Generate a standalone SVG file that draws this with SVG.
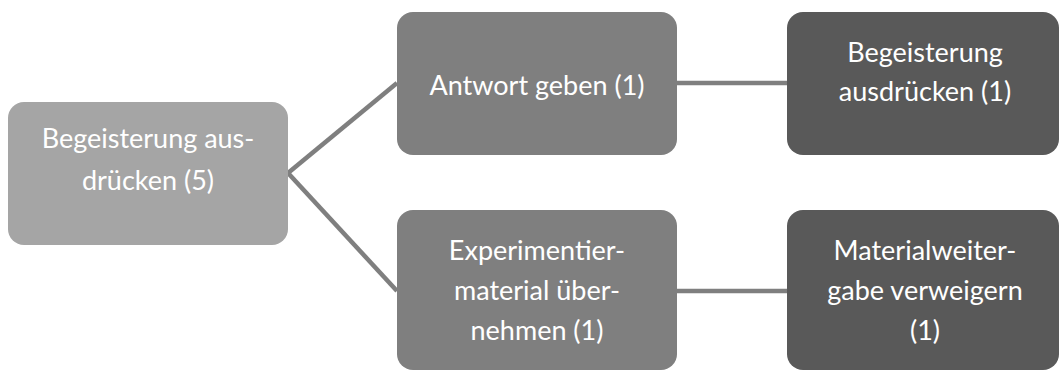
<svg xmlns="http://www.w3.org/2000/svg" width="1060" height="370" viewBox="0 0 1060 370">
<style>
.n1{fill:#a5a5a5}
.n2{fill:#7f7f7f}
.n3{fill:#595959}
.t{font-family:"Lato","Liberation Sans",sans-serif;font-size:27px;fill:#ffffff;text-anchor:middle}
.c{stroke:#7f7f7f;stroke-width:4.5;fill:none}
</style>
<rect width="1060" height="370" fill="#ffffff"/>
<g id="connectors">
<line class="c" x1="288" y1="173" x2="397" y2="83"/>
<line class="c" x1="288" y1="173" x2="397" y2="291"/>
<line class="c" x1="677" y1="83" x2="787" y2="83"/>
<line class="c" x1="677" y1="291" x2="787" y2="291"/>
</g>
<g id="node1">
<rect class="n1" x="8" y="102" width="280" height="143" rx="16"/>
<text class="t" x="148" y="148">Begeisterung aus-</text>
<text class="t" x="148" y="190">drücken (5)</text>
</g>
<g id="node2">
<rect class="n2" x="397" y="12" width="280" height="143" rx="16"/>
<text class="t" x="537" y="95">Antwort geben (1)</text>
</g>
<g id="node3">
<rect class="n3" x="787" y="12" width="272" height="143" rx="16"/>
<text class="t" x="925" y="62">Begeisterung</text>
<text class="t" x="925" y="101">ausdrücken (1)</text>
</g>
<g id="node4">
<rect class="n2" x="397" y="210" width="280" height="160" rx="16"/>
<text class="t" x="537" y="260">Experimentier-</text>
<text class="t" x="537" y="300">material über-</text>
<text class="t" x="537" y="340">nehmen (1)</text>
</g>
<g id="node5">
<rect class="n3" x="787" y="210" width="272" height="160" rx="16"/>
<text class="t" x="925" y="260">Materialweiter-</text>
<text class="t" x="925" y="300">gabe verweigern</text>
<text class="t" x="925" y="340">(1)</text>
</g>
</svg>
